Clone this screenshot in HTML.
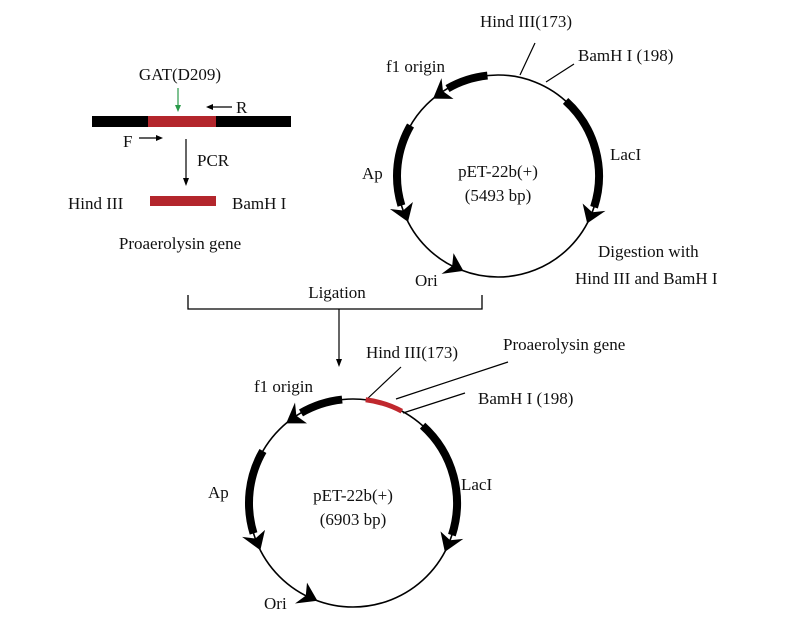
<!DOCTYPE html>
<html><head><meta charset="utf-8"><style>
html,body{margin:0;padding:0;background:#fff;}
svg{display:block;}
text{font-family:"Liberation Serif",serif;font-size:17px;fill:#111;}
</style></head><body>
<svg id="s" width="800" height="626" viewBox="0 0 800 626" xmlns="http://www.w3.org/2000/svg">
<rect x="92" y="116" width="199" height="11" fill="#000"/>
<rect x="148" y="116" width="68" height="11" fill="#b3262c"/>
<text x="180" y="80" text-anchor="middle">GAT(D209)</text>
<line x1="178" y1="88" x2="178" y2="109" stroke="#2a9a4a" stroke-width="1.2"/>
<polygon points="175,105 181,105 178,112" fill="#2a9a4a"/>
<line x1="210" y1="107" x2="232" y2="107" stroke="#000" stroke-width="1.2"/>
<polygon points="206,107 213,104 213,110" fill="#000"/>
<text x="236" y="113">R</text>
<text x="123" y="147">F</text>
<line x1="139" y1="138" x2="159" y2="138" stroke="#000" stroke-width="1.2"/>
<polygon points="163,138 156,135 156,141" fill="#000"/>
<line x1="186" y1="139" x2="186" y2="180" stroke="#000" stroke-width="1.2"/>
<polygon points="186,186 183,178 189,178" fill="#000"/>
<text x="197" y="166">PCR</text>
<text x="68" y="209">Hind III</text>
<rect x="150" y="196" width="66" height="10" fill="#b3262c"/>
<text x="232" y="209">BamH I</text>
<text x="180" y="249" text-anchor="middle">Proaerolysin gene</text>
<polyline points="188,295 188,309 482,309 482,295" fill="none" stroke="#000" stroke-width="1.3"/>
<text x="337" y="298" text-anchor="middle">Ligation</text>
<line x1="339" y1="309" x2="339" y2="361" stroke="#000" stroke-width="1.2"/>
<polygon points="339,367 336,359 342,359" fill="#000"/>
<text x="480" y="27">Hind III(173)</text>
<text x="578" y="61">BamH I (198)</text>
<text x="386" y="72">f1 origin</text>
<text x="362" y="179">Ap</text>
<text x="498" y="177" text-anchor="middle">pET-22b(+)</text>
<text x="498" y="201" text-anchor="middle">(5493 bp)</text>
<text x="610" y="160">LacI</text>
<text x="598" y="257">Digestion with</text>
<text x="575" y="284">Hind III and BamH I</text>
<text x="415" y="286">Ori</text>
<line x1="520" y1="75" x2="535" y2="43" stroke="#000" stroke-width="1.2"/>
<line x1="546" y1="82" x2="574" y2="64" stroke="#000" stroke-width="1.2"/>
<text x="366" y="358">Hind III(173)</text>
<text x="503" y="350">Proaerolysin gene</text>
<text x="478" y="404">BamH I (198)</text>
<text x="254" y="392">f1 origin</text>
<text x="208" y="498">Ap</text>
<text x="353" y="501" text-anchor="middle">pET-22b(+)</text>
<text x="353" y="525" text-anchor="middle">(6903 bp)</text>
<text x="461" y="490">LacI</text>
<text x="264" y="609">Ori</text>
<line x1="366" y1="400" x2="401" y2="367" stroke="#000" stroke-width="1.2"/>
<line x1="396" y1="399" x2="508" y2="362" stroke="#000" stroke-width="1.2"/>
<line x1="403" y1="413" x2="465" y2="393" stroke="#000" stroke-width="1.2"/>
<g id="g"></g>
</svg>
<script>
(function(){
var g=document.getElementById('g'),out='';
function pt(cx,cy,r,a){var t=a*Math.PI/180;return [cx+r*Math.sin(t),cy-r*Math.cos(t)];}
function arc(cx,cy,r,a1,a2,w,col){var p1=pt(cx,cy,r,a1),p2=pt(cx,cy,r,a2);var large=Math.abs(a2-a1)>180?1:0;var sw=a2>a1?1:0;
out+='<path d="M'+p1[0]+' '+p1[1]+' A'+r+' '+r+' 0 '+large+' '+sw+' '+p2[0]+' '+p2[1]+'" fill="none" stroke="'+col+'" stroke-width="'+w+'"/>';}
function head(cx,cy,r,a,dir){var tip=pt(cx,cy,r,a+dir*10);var b=pt(cx,cy,r,a);var m=pt(cx,cy,r,a+dir*3);var t=a*Math.PI/180;var nx=Math.sin(t),ny=-Math.cos(t);
var h=12;out+='<polygon points="'+tip[0]+','+tip[1]+' '+(b[0]+nx*h)+','+(b[1]+ny*h)+' '+m[0]+','+m[1]+' '+(b[0]-nx*h)+','+(b[1]-ny*h)+'" fill="#000"/>';}
function plasmid(cx,cy,r,red){
out+='<circle cx="'+cx+'" cy="'+cy+'" r="'+r+'" fill="none" stroke="#000" stroke-width="1.6"/>';
arc(cx,cy,r,-6,-30,8,'#000');head(cx,cy,r,-30,-1);
arc(cx,cy,r,-60,-107,8,'#000');head(cx,cy,r,-107,-1);
head(cx,cy,r,-150,-1);
arc(cx,cy,r,42,108,8,'#000');head(cx,cy,r,108,1);
if(red)arc(cx,cy,r,7,28,5,'#c0282e');}
plasmid(498,176,101,false);
plasmid(353,503,104,true);
g.innerHTML=out;
})();
</script>
</body></html>
